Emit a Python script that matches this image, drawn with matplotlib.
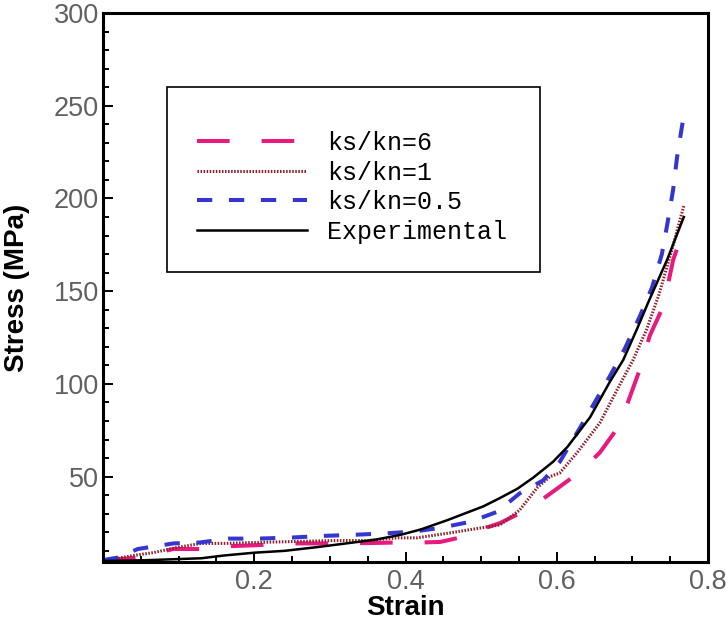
import numpy as np
import matplotlib.pyplot as plt
from matplotlib.patches import Rectangle

plt.rcParams['font.family'] = ['Liberation Sans', 'DejaVu Sans']
plt.rcParams['lines.scale_dashes'] = False

# stress-strain curves (strain, stress in MPa)
exp_strain = [0.0, 0.06, 0.13, 0.16, 0.2, 0.24, 0.283, 0.327, 0.36, 0.393, 0.42, 0.455, 0.503,
              0.525, 0.548, 0.569, 0.595, 0.614, 0.644, 0.67, 0.688, 0.706, 0.721, 0.746, 0.768]
exp_stress = [4.5, 5, 6, 7.5, 9, 10, 12, 14.3, 16, 18.6, 21.5, 26.5, 34,
              38.5, 43.5, 49.5, 58, 66, 82, 101, 113, 129.5, 144, 167, 190]

k05_strain = [0.0, 0.02, 0.046, 0.093, 0.128, 0.166, 0.205, 0.251, 0.287, 0.329, 0.373, 0.413,
              0.446, 0.485, 0.521, 0.551, 0.582, 0.604, 0.631, 0.67, 0.69, 0.71, 0.726, 0.739,
              0.747, 0.754, 0.759, 0.768]
k05_stress = [5, 6.4, 11, 14, 14.5, 16.6, 16.6, 17.2, 18, 18.6, 19.4, 20.5,
              22.4, 25.6, 31, 41, 48, 58, 76.5, 104, 119, 136.6, 152, 170,
              188, 205, 222, 245]

k1_strain = [0.0, 0.02, 0.04, 0.066, 0.1, 0.13, 0.16, 0.2, 0.25, 0.3, 0.35, 0.39, 0.415,
             0.459, 0.525, 0.551, 0.574, 0.591, 0.604, 0.627, 0.657, 0.68, 0.701, 0.719,
             0.735, 0.752, 0.768]
k1_stress = [5, 6, 7.5, 9, 12, 14, 14, 14.5, 15, 15.5, 15.6, 17, 17,
             19.7, 24, 32, 44, 50, 52, 63, 79, 97, 113, 129.5,
             148, 172, 196]

k6_strain = [0.0, 0.046, 0.093, 0.128, 0.166, 0.2, 0.25, 0.3, 0.35, 0.39, 0.42, 0.446, 0.47,
             0.489, 0.525, 0.565, 0.604, 0.631, 0.657, 0.68, 0.694, 0.71, 0.723, 0.741, 0.754, 0.766]
k6_stress = [4.8, 6.4, 11, 11, 12.5, 13, 14, 14, 14.2, 14.5, 14.5, 14.8, 17,
             20, 25, 33, 44.6, 52.7, 63, 76, 90, 108, 126, 142, 167, 181]

labels = ['ks/kn=6', 'ks/kn=1', 'ks/kn=0.5', 'Experimental']

fig = plt.figure(figsize=(7.26, 6.32), dpi=100)
ax = fig.add_axes([0.1419, 0.1108, 0.8333, 0.8686])

ax.plot(k6_strain, k6_stress, color='#e8197f', lw=2.9, dashes=(23.5, 23), label=labels[0])
ax.plot(k1_strain, k1_stress, color='#8e1f2a', lw=2.2, dashes=(1.1, 1.1), label=labels[1])
ax.plot(k05_strain, k05_stress, color='#3535d0', lw=2.9, dashes=(11, 12), label=labels[2])
ax.plot(exp_strain, exp_stress, color='black', lw=1.8, label=labels[3])

ax.set_xlim(0, 0.8)
ax.set_ylim(4, 300)
ax.set_xticks([0.2, 0.4, 0.6, 0.8])
ax.set_xticklabels(['0.2', '0.4', '0.6', '0.8'])
ax.set_xticks(np.arange(0.05, 0.8, 0.05), minor=True)
ax.set_yticks([50, 100, 150, 200, 250, 300])
ax.set_yticks(np.arange(10, 300, 10), minor=True)

ax.tick_params(which='both', direction='in', top=False, right=False,
               labelsize=19.5, labelcolor='#606060', width=1.4)
ax.tick_params(which='major', length=7)
ax.tick_params(which='minor', length=4.5)
ax.tick_params(axis='y', pad=3)
ax.tick_params(axis='x', pad=5)
for s in ax.spines.values():
    s.set_linewidth(2.2)

ax.set_xlabel('Strain', fontsize=20, fontweight='bold')
ax.set_ylabel('Stress (MPa)', fontsize=20, fontweight='bold')
ax.xaxis.set_label_coords(0.5, -0.06)
ax.yaxis.set_label_coords(-0.12, 0.5)

# legend box drawn separately, entries placed inside it
ax.add_patch(Rectangle((0.106, 0.528), 0.616, 0.337, transform=ax.transAxes,
                       facecolor='white', edgecolor='black', lw=1.2, zorder=4))
leg = ax.legend(loc='upper left', bbox_to_anchor=(0.155, 0.785),
                prop={'family': 'Liberation Mono', 'size': 18},
                handlelength=4.4, handletextpad=0.8, labelspacing=0.22, borderpad=0,
                borderaxespad=0, frameon=False)
leg.set_zorder(5)

fig.savefig('out.png', dpi=100)
